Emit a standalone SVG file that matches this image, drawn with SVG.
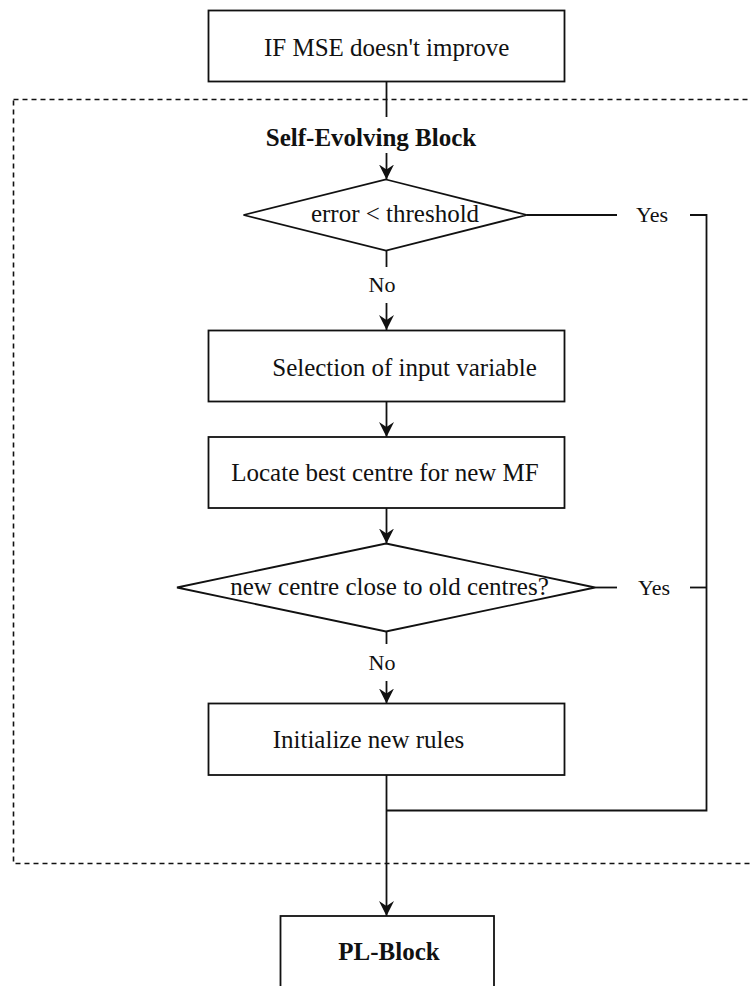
<svg xmlns="http://www.w3.org/2000/svg" width="751" height="986" viewBox="0 0 751 986">
<style>
  .shape { fill: #ffffff; stroke: #111111; stroke-width: 1.8; }
  .line { fill: none; stroke: #111111; stroke-width: 1.8; }
  .dash { fill: none; stroke: #111111; stroke-width: 1.6; stroke-dasharray: 5 4; }
  .t { font-family: "Liberation Serif", "Times New Roman", serif; font-size: 25px; fill: #111111; text-anchor: middle; }
  .lbl { font-family: "Liberation Serif", "Times New Roman", serif; font-size: 22px; fill: #111111; text-anchor: middle; }
  .b { font-weight: bold; }
</style>
<defs>
  <marker id="arrow" markerUnits="userSpaceOnUse" viewBox="0 0 15 15" refX="15" refY="7.5" markerWidth="15" markerHeight="15" orient="auto">
    <path d="M0,0 L15,7.5 L0,15 L5,7.5 Z" fill="#111111"/>
  </marker>
</defs>
<rect width="751" height="986" fill="#ffffff"/>

<g id="self-evolving-block">
  <rect class="dash" x="13.5" y="99.5" width="760" height="764"/>
  <text class="t b" x="371" y="146">Self-Evolving Block</text>
</g>

<g id="connectors">
  <line class="line" x1="386.5" y1="81" x2="386.5" y2="117"/>
  <line class="line" x1="386.5" y1="153" x2="386.5" y2="179.5" marker-end="url(#arrow)"/>
  <line class="line" x1="386.5" y1="250" x2="386.5" y2="267"/>
  <line class="line" x1="386.5" y1="303" x2="386.5" y2="330" marker-end="url(#arrow)"/>
  <line class="line" x1="386.5" y1="402" x2="386.5" y2="437" marker-end="url(#arrow)"/>
  <line class="line" x1="386.5" y1="508" x2="386.5" y2="543.5" marker-end="url(#arrow)"/>
  <line class="line" x1="386.5" y1="632" x2="386.5" y2="644"/>
  <line class="line" x1="386.5" y1="681" x2="386.5" y2="703.5" marker-end="url(#arrow)"/>
  <line class="line" x1="386.5" y1="775" x2="386.5" y2="916" marker-end="url(#arrow)"/>
  <line class="line" x1="527" y1="215" x2="617" y2="215"/>
  <line class="line" x1="595" y1="587.5" x2="617" y2="587.5"/>
  <polyline class="line" points="690,215 706.5,215 706.5,810.5 386.5,810.5"/>
  <line class="line" x1="690" y1="587.5" x2="706.5" y2="587.5"/>
  <text class="lbl" x="652" y="222">Yes</text>
  <text class="lbl" x="654" y="595">Yes</text>
  <text class="lbl" x="382" y="292">No</text>
  <text class="lbl" x="382" y="670">No</text>
</g>

<g id="n-if-mse">
  <rect class="shape" x="208.5" y="10.5" width="356" height="71"/>
  <text class="t" x="386.7" y="56">IF MSE doesn't improve</text>
</g>

<g id="n-error-threshold">
  <polygon class="shape" points="386,179.5 527,215 386,250.5 243.5,215"/>
  <text class="t" x="395" y="222">error &lt; threshold</text>
</g>

<g id="n-selection">
  <rect class="shape" x="208.5" y="330.5" width="356" height="71"/>
  <text class="t" x="404.5" y="376">Selection of input variable</text>
</g>

<g id="n-locate">
  <rect class="shape" x="208.5" y="437" width="356" height="71"/>
  <text class="t" x="385" y="481">Locate best centre for new MF</text>
</g>

<g id="n-close">
  <polygon class="shape" points="386,543.5 595,587.5 386,631.5 177,587.5"/>
  <text class="t" x="389.5" y="595">new centre close to old centres?</text>
</g>

<g id="n-initialize">
  <rect class="shape" x="208.5" y="703.5" width="356" height="71.5"/>
  <text class="t" x="368.5" y="748">Initialize new rules</text>
</g>

<g id="n-pl-block">
  <rect class="shape" x="280.5" y="916" width="213.5" height="100"/>
  <text class="t b" x="389" y="960">PL-Block</text>
</g>
</svg>
